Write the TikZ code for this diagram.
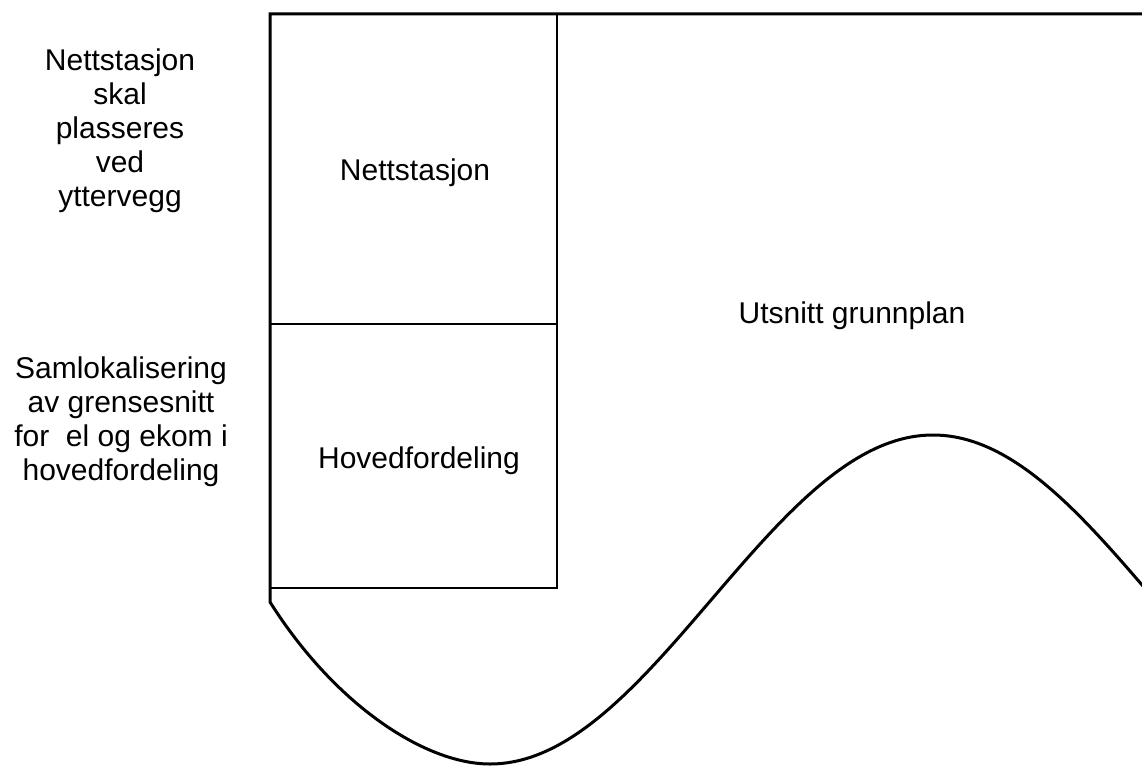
\documentclass[tikz,border=0pt]{standalone}
\usepackage{fontspec}
\setmainfont{Liberation Sans}
\tikzset{
  thinline/.style={line width=1.5pt, black},
  thickline/.style={line width=3pt, black},
  lbl/.style={align=center, inner sep=0pt, font=\fontsize{30}{34}\selectfont},
}
\begin{document}
\begin{tikzpicture}[x=1pt,y=-1pt]
\useasboundingbox (0,0) rectangle (1142,767);
% inner rooms
\draw[thinline] (270,14) rectangle (557,324);
\draw[thinline] (270,324) rectangle (557,588);
% outer outline with wavy cut
\draw[thickline, line join=miter]
  (1150,14) -- (270,14) -- (270,602)
  .. controls (335,705) and (425,764) .. (490,764)
  -- plot[domain=490:1150, samples=120, smooth] (\x, {599.5+164.5*cos((\x-490)/443*180)});
% texts
\node[lbl] (nett) at (415,173) {Nettstasjon};
\node[lbl] (hoved) at (419,461) {Hovedfordeling};
\node[lbl] (utsnitt) at (852,316) {Utsnitt grunnplan};
\node[lbl] (note1) at (120,131) {Nettstasjon\\skal\\plasseres\\ved\\yttervegg};
\node[lbl] (note2) at (121,422) {Samlokalisering\\av grensesnitt\\for\ \ el og ekom i\\hovedfordeling};
\end{tikzpicture}
\end{document}
